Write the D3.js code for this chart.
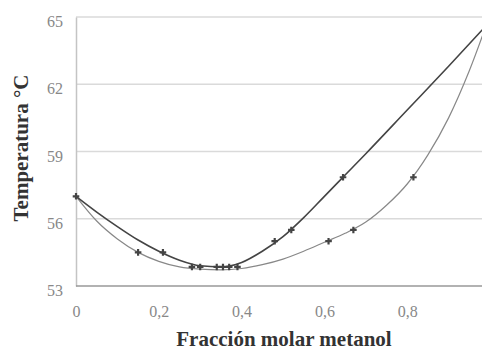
<!DOCTYPE html>
<html>
<head>
<meta charset="utf-8">
<script src="https://cdn.jsdelivr.net/npm/d3@7"></script>
<style>
  body { margin: 0; background: #fff; }
  svg { display: block; }
  .tick text { font-family: "Liberation Serif", "DejaVu Serif", serif; font-size: 16px; fill: #888; }
  .title { font-family: "Liberation Serif", "DejaVu Serif", serif; font-size: 21px; font-weight: bold; fill: #333; }
</style>
</head>
<body>
<div id="chart"></div>
<script>

// axis ticks
var yTicks = [53, 56, 59, 62, 65];
var xTicks = [0, 0.2, 0.4, 0.6, 0.8];

// upper curve (vapour)
var upperX = [0, 0.05, 0.1, 0.15, 0.2, 0.25, 0.3, 0.35, 0.4, 0.45, 0.5, 0.55, 0.6, 0.65, 0.7, 0.8, 0.9, 1];
var upperT = [57, 56.3, 55.65, 55.05, 54.55, 54.15, 53.9, 53.85, 54.05, 54.55, 55.2, 56.05, 57.0, 57.95, 58.9, 60.85, 62.8, 64.8];

// lower curve (liquid)
var lowerX = [0, 0.05, 0.1, 0.15, 0.2, 0.25, 0.3, 0.35, 0.4, 0.45, 0.5, 0.55, 0.6, 0.65, 0.7, 0.75, 0.8, 0.85, 0.9, 0.95, 1];
var lowerT = [57, 55.9, 55.1, 54.5, 54.1, 53.85, 53.75, 53.72, 53.78, 53.95, 54.2, 54.55, 54.95, 55.35, 55.85, 56.6, 57.55, 58.85, 60.5, 62.6, 65.1];

// experimental points
var markX = [0, 0.15, 0.21, 0.28, 0.30, 0.34, 0.355, 0.37, 0.39, 0.48, 0.52, 0.61, 0.67, 0.645, 0.815];
var markT = [57, 54.5, 54.5, 53.85, 53.85, 53.85, 53.85, 53.85, 53.85, 55.0, 55.5, 55.0, 55.5, 57.85, 57.85];

var width = 482, height = 351;

var x = d3.scaleLinear().domain([0, 1]).range([76, 490]);
var y = d3.scaleLinear().domain([53, 65]).range([286, 17]);

var svg = d3.select("#chart").append("svg")
    .attr("width", width)
    .attr("height", height);

// horizontal grid
svg.selectAll("line.grid")
    .data(yTicks.slice(1))
    .enter().append("line")
    .attr("class", "grid")
    .attr("x1", x(0)).attr("x2", width)
    .attr("y1", function(d){ return y(d); })
    .attr("y2", function(d){ return y(d); })
    .style("stroke", "#dadada")
    .style("stroke-width", 1.5);

// y axis
var yAxis = svg.append("g")
    .attr("transform", "translate(" + x(0) + ",0)")
    .call(d3.axisLeft(y).tickValues(yTicks).tickSize(0).tickPadding(13));
yAxis.select(".domain").style("stroke", "#c4c4c4").style("stroke-width", 1.5);
yAxis.selectAll(".tick text").attr("dy", "0.6em");

// x axis
var xAxis = svg.append("g")
    .attr("transform", "translate(0," + y(53) + ")")
    .call(d3.axisBottom(x).tickValues(xTicks).tickSize(0).tickPadding(20)
        .tickFormat(function(d){ return d === 0 ? "0" : d3.format(".1f")(d).replace(".", ","); }));
xAxis.select(".domain").remove();
svg.append("line")
    .attr("x1", x(0)).attr("x2", width)
    .attr("y1", y(53)).attr("y2", y(53))
    .style("stroke", "#999")
    .style("stroke-width", 1.5);

var line = d3.line()
    .x(function(d){ return x(d[0]); })
    .y(function(d){ return y(d[1]); })
    .curve(d3.curveMonotoneX);

svg.append("path")
    .datum(d3.zip(lowerX, lowerT))
    .attr("d", line)
    .style("fill", "none")
    .style("stroke", "#888")
    .style("stroke-width", 1.2);

svg.append("path")
    .datum(d3.zip(upperX, upperT))
    .attr("d", line)
    .style("fill", "none")
    .style("stroke", "#444")
    .style("stroke-width", 1.6);

// markers
var sym = d3.symbol().type(d3.symbolCross).size(24);
svg.selectAll("path.mark")
    .data(d3.zip(markX, markT))
    .enter().append("path")
    .attr("class", "mark")
    .attr("d", sym)
    .attr("transform", function(d){ return "translate(" + x(d[0]) + "," + y(d[1]) + ")"; })
    .style("fill", "#444");

// titles
svg.append("text")
    .attr("class", "title")
    .attr("text-anchor", "middle")
    .attr("transform", "translate(28,148) rotate(-90)")
    .text("Temperatura °C");

svg.append("text")
    .attr("class", "title")
    .attr("text-anchor", "middle")
    .attr("x", 284).attr("y", 346)
    .text("Fracción molar metanol");

</script>
</body>
</html>
